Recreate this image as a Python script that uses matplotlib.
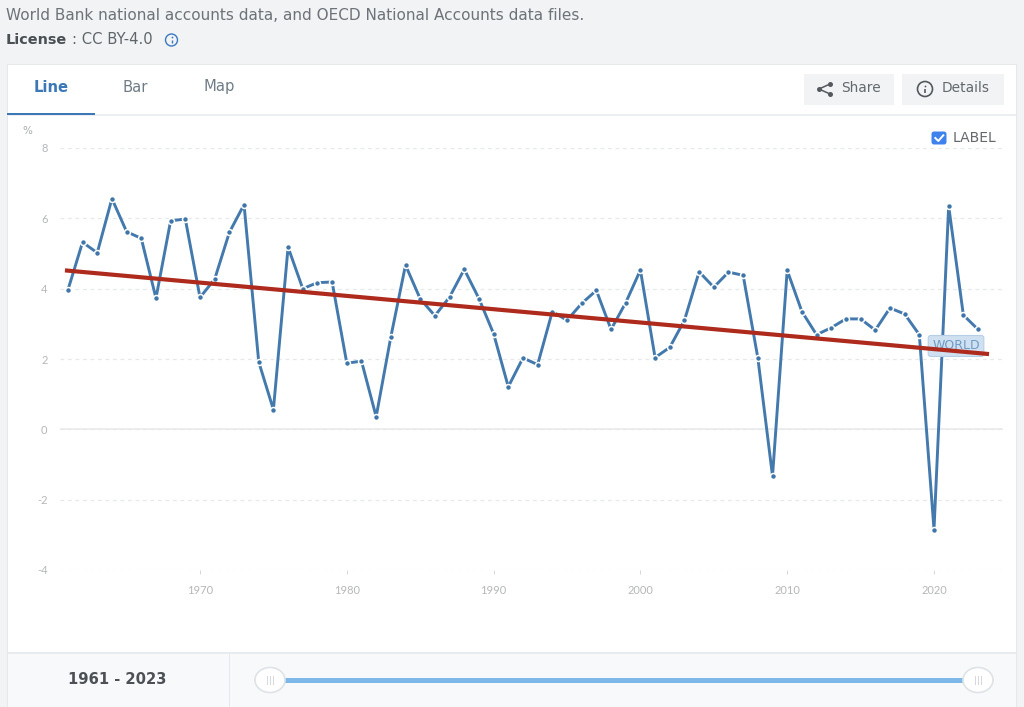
import matplotlib
matplotlib.use("Agg")
import matplotlib.pyplot as plt
from matplotlib.patches import Rectangle, FancyBboxPatch, Ellipse, Circle

years = list(range(1961, 2024))
growth = [3.96, 5.32, 5.02, 6.56, 5.62, 5.43, 3.73, 5.93, 5.98, 3.75,
          4.27, 5.60, 6.39, 1.92, 0.56, 5.18, 4.00, 4.17, 4.19, 1.88,
          1.94, 0.36, 2.63, 4.67, 3.71, 3.23, 3.76, 4.55, 3.72, 2.72,
          1.21, 2.03, 1.84, 3.35, 3.10, 3.58, 3.95, 2.84, 3.60, 4.53,
          2.04, 2.33, 3.10, 4.48, 4.04, 4.47, 4.38, 2.03, -1.33, 4.52,
          3.35, 2.69, 2.89, 3.14, 3.14, 2.82, 3.45, 3.28, 2.69, -2.85,
          6.35, 3.25, 2.84]
trend_years = [1960.8, 2023.75]
trend_values = [4.52, 2.14]
x_ticks = [1970, 1980, 1990, 2000, 2010, 2020]
y_ticks = [-4, -2, 0, 2, 4, 6, 8]
series_label = "WORLD"
source_text = "World Bank national accounts data, and OECD National Accounts data files."
license_label = "License"
license_value = ": CC BY-4.0"
tabs = ["Line", "Bar", "Map"]
range_label = "1961 - 2023"

W, H = 1024, 707
plt.rcParams['font.family'] = ['DejaVu Sans']
plt.rcParams['axes.unicode_minus'] = False
fig = plt.figure(figsize=(W / 100, H / 100), dpi=100, facecolor='#f1f3f5')

# page furniture, in pixel coordinates
ui = fig.add_axes([0, 0, 1, 1], zorder=0)
ui.set_xlim(0, W)
ui.set_ylim(H, 0)
ui.axis('off')

def rect(x0, y0, x1, y1, color, **kw):
    ui.add_patch(Rectangle((x0, y0), x1 - x0, y1 - y0, facecolor=color, edgecolor='none', **kw))

rect(7, 64, 1017, 707, '#e6e9ec')
rect(8, 65, 1016, 706, 'white')
rect(8, 114, 1016, 116, '#eceff1')
rect(7, 112.5, 95, 115, '#3b78b5')
rect(8, 652, 1016, 654, '#e9ecee')
rect(8, 654, 1016, 707, '#f7f9fa')
rect(228.5, 654, 229.5, 707, '#e6e9ec')

ui.text(6, 16, source_text, fontsize=11.0, color='#6d7378', va='center', ha='left')
ui.text(6, 40, license_label, fontsize=10.4, color='#4a4f54', va='center', ha='left', fontweight='bold')
ui.text(72, 40, license_value, fontsize=10.6, color='#5f6569', va='center', ha='left')

def info(cx, cy, r, color, lw):
    ui.add_patch(Circle((cx, cy), r, facecolor='none', edgecolor=color, lw=lw))
    ui.plot([cx, cx], [cy - 0.5, cy + r * 0.5], color=color, lw=lw, solid_capstyle='butt')
    ui.plot([cx], [cy - r * 0.45], 'o', color=color, ms=1.3, mew=0)

info(171.5, 40, 6, '#3b78c0', 1.0)

for label, x, color, weight in zip(tabs, [51, 135, 219],
                                   ['#3b78b5', '#6f7c86', '#6f7c86'],
                                   ['bold', 'normal', 'normal']):
    ui.text(x, 87, label, fontsize=10.6, color=color, fontweight=weight, ha='center', va='center')

rect(804, 74, 894, 105, '#f1f3f5')
rect(902, 74, 1004, 105, '#f1f3f5')
ui.text(861, 88.5, "Share", fontsize=9.9, color='#63686d', ha='center', va='center')
ui.text(966, 88.5, "Details", fontsize=9.9, color='#63686d', ha='center', va='center')
ui.plot([830, 819, 830], [84, 89, 94], color='#55595d', lw=1.1)
ui.plot([830, 819, 830], [84, 89, 94], 'o', color='#55595d', ms=3.6, mew=0)
info(925, 89, 7.5, '#55595d', 1.2)

ui.add_patch(FancyBboxPatch((933, 133), 12, 10, boxstyle="round,pad=1.5,rounding_size=2.5",
                            facecolor='#3f82ee', edgecolor='none'))
ui.plot([935.3, 938.3, 943.3], [138, 141, 135.3], color='white', lw=1.4)
ui.text(953, 137.5, "LABEL", fontsize=10.0, color='#63686d', ha='left', va='center')
ui.text(27, 131, "%", fontsize=7.5, color='#a5a8aa', ha='center', va='center')

ui.text(117.5, 679.5, range_label, fontsize=10.6, color='#4d5155', fontweight='bold', ha='center', va='center')
rect(284, 677.5, 964, 682.5, '#7db8e8')
for cx in (270, 978):
    ui.add_patch(Ellipse((cx, 680), 30, 25, facecolor='white', edgecolor='#dfe3e6', lw=1.2))
    ui.plot([cx - 3, cx - 3], [676, 684], color='#d4d8db', lw=0.7)
    ui.plot([cx, cx], [676, 684], color='#d4d8db', lw=0.7)
    ui.plot([cx + 3, cx + 3], [676, 684], color='#d4d8db', lw=0.7)

# chart
L, R, T, B = 60, 1003, 148, 570
ax = fig.add_axes([L / W, 1 - B / H, (R - L) / W, (B - T) / H], zorder=1)
ax.patch.set_alpha(0)
px_per_year = 14.68
ax.set_xlim(1970 + (L - 200) / px_per_year, 1970 + (R - 200) / px_per_year)
ax.set_ylim(-4, 8)
for s in ax.spines.values():
    s.set_visible(False)
ax.set_xticks(x_ticks)
ax.set_yticks(y_ticks)
ax.tick_params(axis='x', length=3, width=0.7, color='#d5d8da', labelcolor='#b4b7b9',
               labelsize=8.0, pad=8)
ax.tick_params(axis='y', length=0, labelcolor='#b4b7b9', labelsize=8.0, pad=9)
for t in ax.get_xticklabels() + ax.get_yticklabels():
    t.set_family(['Lato', 'DejaVu Sans'])
ax.grid(axis='y', color='#e6e8ea', lw=0.9, linestyle=(0, (3, 3)))
ax.set_axisbelow(True)
ax.axhline(0, color='#e8eaec', lw=1.2, zorder=1)

ax.plot(years, growth, color='#4379ac', lw=2.1, marker='o', ms=4.3, mfc='#3f75a8',
        mec='white', mew=1.1, solid_joinstyle='miter', zorder=3, clip_on=False)
ax.text(2021.5, 2.37, series_label, fontsize=9.0, color='#6d9bc8', ha='center', va='center', zorder=3.5,
        bbox=dict(boxstyle='round,pad=0.32,rounding_size=0.2', facecolor='#cfe0f0',
                  edgecolor='#b7cfe6', lw=0.8))
ax.plot(trend_years, trend_values, color='#ae2a1c', lw=3.0, solid_capstyle='butt', zorder=4)

fig.savefig('out.png', dpi=100, facecolor=fig.get_facecolor())
